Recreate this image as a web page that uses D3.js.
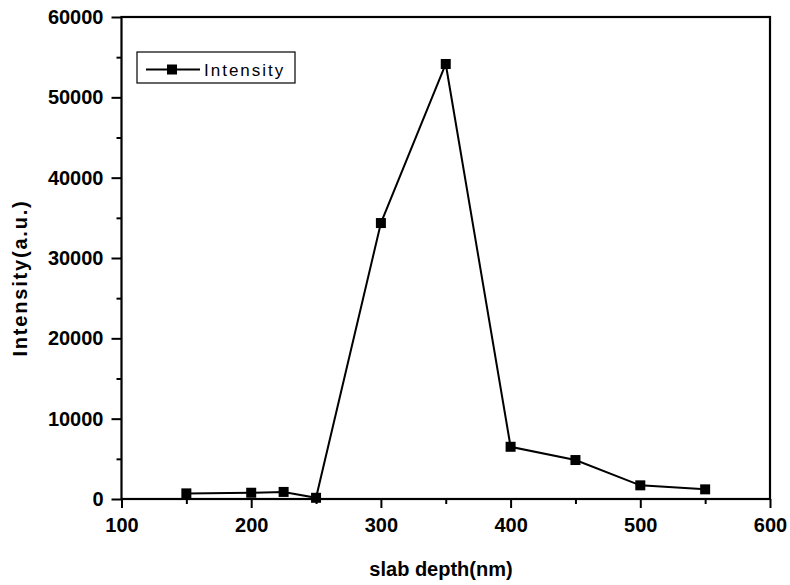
<!DOCTYPE html>
<html>
<head>
<meta charset="utf-8">
<script src="https://cdn.jsdelivr.net/npm/d3@7"></script>
<style>
  html, body { margin: 0; padding: 0; background: #fff; }
  svg { display: block; }
</style>
</head>
<body>
<svg id="chart" width="790" height="585"></svg>
<script>
// Slab depth (nm) and measured intensity (a.u.)
const depth = [150, 200, 225, 250, 300, 350, 400, 450, 500, 550];
const intensity = [700, 780, 880, 150, 34350, 54150, 6500, 4850, 1700, 1200];
const xTicks = [100, 200, 300, 400, 500, 600];
const xMinorTicks = [150, 250, 350, 450, 550];
const yTicks = [0, 10000, 20000, 30000, 40000, 50000, 60000];
const yMinorTicks = [5000, 15000, 25000, 35000, 45000, 55000];
const seriesName = "Intensity";

const svg = d3.select("#chart");
const x = d3.scaleLinear().domain([100, 600]).range([121.5, 770]);
const y = d3.scaleLinear().domain([0, 60000]).range([499, 17]);

const font = "Arial, 'Liberation Sans', sans-serif";

// x axis
const xAxis = svg.append("g").attr("transform", `translate(0,${y(0)})`)
  .call(d3.axisBottom(x).tickValues(xTicks).tickSize(9).tickSizeOuter(0).tickPadding(10).tickFormat(d3.format("d")));
const xMinor = svg.append("g").attr("transform", `translate(0,${y(0)})`)
  .call(d3.axisBottom(x).tickValues(xMinorTicks).tickSize(5).tickSizeOuter(0).tickFormat(""));

// y axis
const yAxis = svg.append("g").attr("transform", `translate(${x(100)},0)`)
  .call(d3.axisLeft(y).tickValues(yTicks).tickSize(10).tickSizeOuter(0).tickPadding(8).tickFormat(d3.format("d")));
const yMinor = svg.append("g").attr("transform", `translate(${x(100)},0)`)
  .call(d3.axisLeft(y).tickValues(yMinorTicks).tickSize(5).tickSizeOuter(0).tickFormat(""));

[xAxis, xMinor, yAxis, yMinor].forEach(g => {
  g.selectAll("path.domain").remove();
  g.selectAll("line").attr("stroke", "#000").attr("stroke-width", 2);
  g.selectAll("text").attr("fill", "#000")
    .style("font-family", font).style("font-weight", "bold")
    .style("font-size", "20px");
});

// frame
svg.append("rect")
  .attr("x", x(100)).attr("y", y(60000))
  .attr("width", x(600) - x(100)).attr("height", y(0) - y(60000))
  .attr("fill", "none").attr("stroke", "#000").attr("stroke-width", 2.2);

// series line and markers
const line = d3.line().x((d, i) => x(depth[i])).y(d => y(d));
svg.append("path").datum(intensity)
  .attr("d", line).attr("fill", "none").attr("stroke", "#000").attr("stroke-width", 2);

const ms = 10;
svg.append("g").selectAll("rect").data(intensity).join("rect")
  .attr("x", (d, i) => x(depth[i]) - ms / 2)
  .attr("y", d => y(d) - ms / 2)
  .attr("width", ms).attr("height", ms).attr("fill", "#000");

// axis titles
svg.append("text")
  .attr("x", 441).attr("y", 576)
  .attr("text-anchor", "middle")
  .style("font-family", font).style("font-weight", "bold").style("font-size", "20px")
  .text("slab depth(nm)");

svg.append("text")
  .attr("transform", `translate(27,278) rotate(-90)`)
  .attr("text-anchor", "middle")
  .style("font-family", font).style("font-weight", "bold").style("font-size", "20px")
  .style("letter-spacing", "1.8px")
  .text("Intensity(a.u.)");

// legend
const lg = svg.append("g");
lg.append("rect").attr("x", 137).attr("y", 52).attr("width", 158).attr("height", 31)
  .attr("fill", "#fff").attr("stroke", "#000").attr("stroke-width", 1.2);
lg.append("line").attr("x1", 146).attr("x2", 200).attr("y1", 69.5).attr("y2", 69.5)
  .attr("stroke", "#000").attr("stroke-width", 2);
lg.append("rect").attr("x", 167).attr("y", 64.5).attr("width", ms).attr("height", ms).attr("fill", "#000");
lg.append("text").attr("x", 204).attr("y", 76)
  .style("font-family", font).style("font-size", "17px").style("letter-spacing", "2px")
  .text(seriesName);
</script>
</body>
</html>
